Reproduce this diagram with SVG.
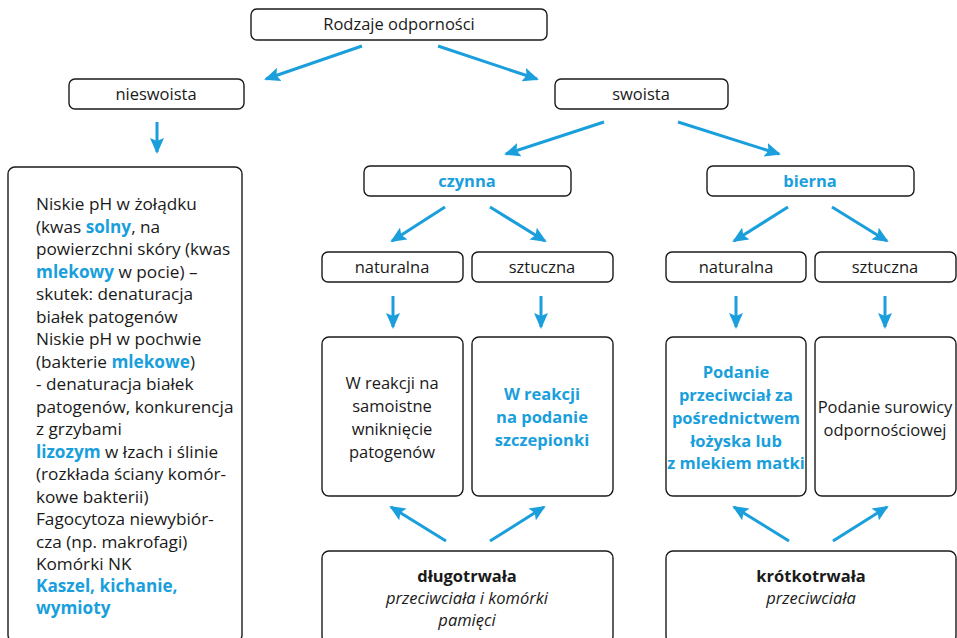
<svg xmlns="http://www.w3.org/2000/svg" width="957" height="638" viewBox="0 0 957 638">
<style>
.box{fill:#fff;stroke:#1a1a1a;stroke-width:1.4}
text{font-family:"Open Sans","Noto Sans",sans-serif;font-size:16.5px;fill:#1a1a1a}
.c{text-anchor:middle}
.b{font-weight:bold}
.blue{fill:#1a9fdc}
.i{font-style:italic}
.lt{font-size:17.2px}
.con line{stroke:#1a9fdc;stroke-width:3;marker-end:url(#ah)}
</style>
<defs>
<marker id="ah" markerUnits="userSpaceOnUse" markerWidth="18" markerHeight="14" refX="14" refY="7" orient="auto">
<path d="M0,0 L16,7 L0,14 L3,7 Z" fill="#1a9fdc"/>
</marker>
</defs>
<g class="con">
<line x1="362" y1="46" x2="266" y2="79"/>
<line x1="438" y1="46" x2="537" y2="79"/>
<line x1="157" y1="122" x2="157" y2="152"/>
<line x1="604" y1="122" x2="506" y2="154"/>
<line x1="678" y1="122" x2="779" y2="154"/>
<line x1="445" y1="207" x2="392" y2="241"/>
<line x1="490" y1="207" x2="545" y2="241"/>
<line x1="788" y1="207" x2="734" y2="241"/>
<line x1="832" y1="207" x2="887" y2="241"/>
<line x1="393" y1="296" x2="393" y2="327"/>
<line x1="541" y1="296" x2="541" y2="327"/>
<line x1="736" y1="296" x2="736" y2="327"/>
<line x1="885" y1="296" x2="885" y2="327"/>
<line x1="446" y1="541" x2="391" y2="507"/>
<line x1="490" y1="541" x2="544" y2="507"/>
<line x1="789" y1="541" x2="734" y2="507"/>
<line x1="833" y1="541" x2="887" y2="507"/>
</g>
<g id="n-root"><rect class="box" x="251" y="9" width="296" height="31" rx="6"/><text class="c" x="399" y="30">Rodzaje odporności</text></g>
<g id="n-nieswoista"><rect class="box" x="69" y="79" width="175" height="30" rx="6"/><text class="c" x="156" y="100">nieswoista</text></g>
<g id="n-swoista"><rect class="box" x="555" y="79" width="173" height="30" rx="6"/><text class="c" x="641" y="100">swoista</text></g>
<g id="n-nieswoista-list"><rect class="box" x="8" y="167" width="234" height="475" rx="7"/>
<text class="lt" x="36">
<tspan x="36" y="210">Niskie pH w żołądku</tspan>
<tspan x="36" y="232.5">(kwas <tspan class="b blue">solny</tspan>, na</tspan>
<tspan x="36" y="255">powierzchni skóry (kwas</tspan>
<tspan x="36" y="277.5"><tspan class="b blue">mlekowy</tspan> w pocie) –</tspan>
<tspan x="36" y="300">skutek: denaturacja</tspan>
<tspan x="36" y="322.5">białek patogenów</tspan>
<tspan x="36" y="345">Niskie pH w pochwie</tspan>
<tspan x="36" y="367.5">(bakterie <tspan class="b blue">mlekowe</tspan>)</tspan>
<tspan x="36" y="390">- denaturacja białek</tspan>
<tspan x="36" y="412.5">patogenów, konkurencja</tspan>
<tspan x="36" y="435">z grzybami</tspan>
<tspan x="36" y="457.5"><tspan class="b blue">lizozym</tspan> w łzach i ślinie</tspan>
<tspan x="36" y="480">(rozkłada ściany komór-</tspan>
<tspan x="36" y="502.5">kowe bakterii)</tspan>
<tspan x="36" y="525">Fagocytoza niewybiór-</tspan>
<tspan x="36" y="547.5">cza (np. makrofagi)</tspan>
<tspan x="36" y="570">Komórki NK</tspan>
<tspan x="36" y="592" class="b blue">Kaszel, kichanie,</tspan>
<tspan x="36" y="614" class="b blue">wymioty</tspan>
</text></g>
<g id="n-czynna"><rect class="box" x="364" y="166" width="207" height="30" rx="6"/><text class="c b blue" x="467" y="187">czynna</text></g>
<g id="n-bierna"><rect class="box" x="707" y="166" width="207" height="30" rx="6"/><text class="c b blue" x="810" y="187">bierna</text></g>
<g id="n-cz-nat"><rect class="box" x="322" y="252" width="141" height="30" rx="6"/><text class="c" x="392" y="273">naturalna</text></g>
<g id="n-cz-szt"><rect class="box" x="472" y="252" width="141" height="30" rx="6"/><text class="c" x="542" y="273">sztuczna</text></g>
<g id="n-bi-nat"><rect class="box" x="666" y="252" width="140" height="30" rx="6"/><text class="c" x="736" y="273">naturalna</text></g>
<g id="n-bi-szt"><rect class="box" x="815" y="252" width="141" height="30" rx="6"/><text class="c" x="885" y="273">sztuczna</text></g>
<g id="n-cz-nat-d"><rect class="box" x="322" y="337" width="141" height="159" rx="7"/>
<text class="c"><tspan x="392" y="389">W reakcji na</tspan><tspan x="392" y="412">samoistne</tspan><tspan x="392" y="435">wniknięcie</tspan><tspan x="392" y="458">patogenów</tspan></text></g>
<g id="n-cz-szt-d"><rect class="box" x="472" y="337" width="141" height="159" rx="7"/>
<text class="c b blue"><tspan x="542" y="400">W reakcji</tspan><tspan x="542" y="423">na podanie</tspan><tspan x="542" y="446">szczepionki</tspan></text></g>
<g id="n-bi-nat-d"><rect class="box" x="666" y="337" width="140" height="159" rx="7"/>
<text class="c b blue"><tspan x="736" y="378">Podanie</tspan><tspan x="736" y="401">przeciwciał za</tspan><tspan x="736" y="424">pośrednictwem</tspan><tspan x="736" y="447">łożyska lub</tspan><tspan x="736" y="469">z mlekiem matki</tspan></text></g>
<g id="n-bi-szt-d"><rect class="box" x="815" y="337" width="141" height="159" rx="7"/>
<text class="c"><tspan x="885" y="413">Podanie surowicy</tspan><tspan x="885" y="436">odpornościowej</tspan></text></g>
<g id="n-dlugo"><rect class="box" x="322" y="551" width="291" height="92" rx="7"/>
<text class="c"><tspan class="b" x="467" y="582">długotrwała</tspan><tspan class="i" x="467" y="604">przeciwciała i komórki</tspan><tspan class="i" x="467" y="626">pamięci</tspan></text></g>
<g id="n-krotko"><rect class="box" x="666" y="551" width="290" height="92" rx="7"/>
<text class="c"><tspan class="b" x="811" y="582">krótkotrwała</tspan><tspan class="i" x="811" y="604">przeciwciała</tspan></text></g>
</svg>
